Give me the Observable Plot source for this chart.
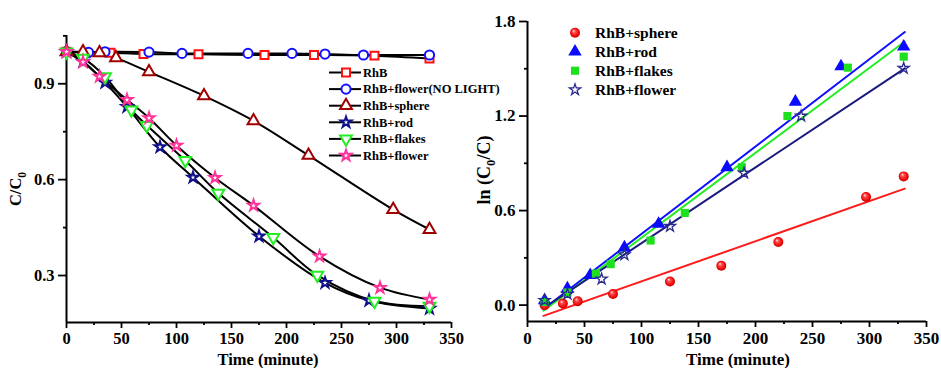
<!DOCTYPE html>
<html><head><meta charset="utf-8">
<script src="https://cdn.jsdelivr.net/npm/d3@7"></script>
<script src="https://cdn.jsdelivr.net/npm/@observablehq/plot@0.6"></script>
<style>
html,body{margin:0;padding:0;background:#fff;}
#root{position:relative;width:941px;height:368px;overflow:hidden;background:#fff;}
#root > svg{position:absolute;top:0;}
</style></head><body><div id="root"></div>
<script>
// ---------- Left panel: C/C0 vs time (minute) ----------
const tRhB = [0,40,70,120,180,225,280,330];
const cRhB = [1.0,0.997,0.993,0.992,0.990,0.990,0.988,0.979];
const tNoLight = [0,20,35,75,105,165,205,235,270,330];
const cNoLight = [1.0,0.998,1.0,0.999,0.995,0.995,0.995,0.993,0.990,0.990];
const tSphere = [0,15,30,45,75,125,170,220,297,330];
const cSphere = [1.0,1.0,0.997,0.981,0.937,0.862,0.784,0.676,0.506,0.444];
const tRod = [0,15,35,55,85,115,175,235,275,330];
const cRod = [1.0,0.97,0.904,0.828,0.702,0.607,0.423,0.277,0.222,0.197];
const tFlakes = [0,15,35,59,73,108,138,188,228,280,330];
const cFlakes = [1.0,0.98,0.922,0.818,0.77,0.66,0.558,0.419,0.301,0.22,0.204];
const tFlower = [0,15,30,55,75,100,135,170,230,285,330];
const cFlower = [1.0,0.968,0.923,0.85,0.793,0.707,0.606,0.519,0.36,0.262,0.225];

// ---------- Right panel: ln(C0/C) vs time (minute) ----------
const kSphereT = [15,31,44,75,125,170,220,297,330];
const kSphereY = [0.0,0.01,0.025,0.07,0.15,0.25,0.40,0.686,0.817];
const kRodT = [15,35,55,85,115,175,235,275,330];
const kRodY = [0.03,0.105,0.19,0.365,0.515,0.875,1.29,1.515,1.64];
const kFlakesT = [15,35,60,73,108,138,188,228,281,330];
const kFlakesY = [0.02,0.08,0.2,0.26,0.41,0.585,0.875,1.2,1.507,1.577];
const kFlowerT = [15,35,65,85,125,190,240,330];
const kFlowerY = [0.03,0.07,0.166,0.32,0.5,0.838,1.2,1.503];
// linear-fit lines (end values)
const fitT = [14,331];
const fitSphere = [-0.068,0.739];
const fitRod = [-0.025,1.733];
const fitFlakes = [-0.036,1.673];
const fitFlower = [-0.02,1.503];

// ---------- ticks ----------
const xMajor = [0,50,100,150,200,250,300,350];
const xMinor = [25,75,125,175,225,275,325];
const leftYMajor = [0.3,0.6,0.9];
const leftYMinor = [0.45,0.75,1.05];
const rightYMajor = [0.0,0.6,1.2,1.8];
const rightYMinor = [0.3,0.9,1.5];

const FONT = "'Liberation Serif','Times New Roman',serif";
const zip = (ts, vs, name) => ts.map((t, i) => ({t, v: vs[i], name}));

const triangleDown = {
  draw(ctx, size) {
    const y = -Math.sqrt(size / (Math.sqrt(3) * 3));
    ctx.moveTo(0, -y * 2);
    ctx.lineTo(-Math.sqrt(3) * y, y);
    ctx.lineTo(Math.sqrt(3) * y, y);
    ctx.closePath();
  }
};

const leftSeries = [
  {name: "RhB", data: zip(tRhB, cRhB, "RhB"), symbol: "square", color: "#ff1010", r: 4.5},
  {name: "RhB+flower(NO LIGHT)", data: zip(tNoLight, cNoLight, "nl"), symbol: "circle", color: "#1010ff", r: 4.6},
  {name: "RhB+sphere", data: zip(tSphere, cSphere, "sp"), symbol: "triangle", color: "#a00000", r: 4.4},
  {name: "RhB+rod", data: zip(tRod, cRod, "rod"), symbol: "star", color: "#10108c", r: 3.4},
  {name: "RhB+flakes", data: zip(tFlakes, cFlakes, "fl"), symbol: triangleDown, color: "#22ee22", r: 4.4},
  {name: "RhB+flower", data: zip(tFlower, cFlower, "fw"), symbol: "star", color: "#ff3399", r: 3.4}
];

const rightSeries = [
  {name: "RhB+sphere", data: zip(kSphereT, kSphereY, "sp"), fit: fitSphere, symbol: "circle", fill: "url(#sphereGrad)", stroke: "none", line: "#ff1a1a", r: 5},
  {name: "RhB+rod", data: zip(kRodT, kRodY, "rod"), fit: fitRod, symbol: "triangle", fill: "#0a0aff", stroke: "none", line: "#1010ff", r: 5},
  {name: "RhB+flakes", data: zip(kFlakesT, kFlakesY, "fl"), fit: fitFlakes, symbol: "square", fill: "#1fe01f", stroke: "none", line: "#22ee22", r: 4.6},
  {name: "RhB+flower", data: zip(kFlowerT, kFlowerY, "fw"), fit: fitFlower, symbol: "star", fill: "none", stroke: "#2a2a90", line: "#1a1a80", r: 3.5}
];

function axes(yDomain, yMajor, yMinor, fs) {
  const common = {stroke: "black", strokeWidth: 1.8, label: null, fontSize: fs, fontWeight: "bold", fontFamily: FONT};
  return [
    Plot.ruleY([yDomain[0]], {stroke: "black", strokeWidth: 2}),
    Plot.ruleX([0], {stroke: "black", strokeWidth: 2}),
    Plot.axisX({...common, ticks: xMajor, tickSize: 6, tickPadding: 4, tickFormat: d => String(d)}),
    Plot.axisX({...common, ticks: xMinor, tickSize: 3, tickFormat: () => ""}),
    Plot.axisY({...common, ticks: yMajor, tickSize: 8, tickPadding: 4, tickFormat: d3.format(".1f")}),
    Plot.axisY({...common, ticks: yMinor, tickSize: 3, tickFormat: () => ""})
  ];
}

const leftDomain = [0.153, 1.051];
const left = Plot.plot({
  width: 470, height: 368,
  marginLeft: 66, marginRight: 19, marginTop: 35, marginBottom: 46,
  x: {domain: [0, 350]},
  y: {domain: leftDomain},
  style: {fontFamily: FONT, color: "black", background: "transparent", overflow: "visible"},
  marks: [
    ...leftSeries.map(s => Plot.line(s.data, {x: "t", y: "v", stroke: "black", strokeWidth: 2, curve: "catmull-rom"})),
    ...axes(leftDomain, leftYMajor, leftYMinor, 16.5),
    ...leftSeries.map(s => Plot.dot(s.data, {x: "t", y: "v", symbol: s.symbol, r: s.r, stroke: s.color, strokeWidth: 2, fill: "white"}))
  ]
});

const rightDomain = [-0.104, 1.8];
const right = Plot.plot({
  width: 471, height: 368,
  marginLeft: 57, marginRight: 15, marginTop: 21, marginBottom: 47,
  x: {domain: [0, 350]},
  y: {domain: rightDomain},
  style: {fontFamily: FONT, color: "black", background: "white"},
  marks: [
    ...axes(rightDomain, rightYMajor, rightYMinor, 17),
    ...rightSeries.map(s => Plot.line(fitT.map((t, i) => ({t, v: s.fit[i]})), {x: "t", y: "v", stroke: s.line, strokeWidth: 2})),
    ...rightSeries.map(s => Plot.dot(s.data, {x: "t", y: "v", symbol: s.symbol, r: s.r, fill: s.fill, stroke: s.stroke, strokeWidth: 1.3}))
  ]
});

const root = document.getElementById("root");
right.style.left = "470px";
left.style.left = "0px";
root.appendChild(right);
root.appendChild(left);

// ---------- overlay: gradient, axis titles, legends ----------
const ov = d3.select(root).append("svg")
  .attr("width", 941).attr("height", 368)
  .style("position", "absolute").style("left", "0px").style("top", "0px")
  .style("pointer-events", "none")
  .style("font-family", FONT).style("font-weight", "bold");

const grad = ov.append("defs").append("radialGradient").attr("id", "sphereGrad")
  .attr("cx", "0.5").attr("cy", "0.5").attr("r", "0.55").attr("fx", "0.35").attr("fy", "0.3");
grad.append("stop").attr("offset", "0").attr("stop-color", "#ffe6e6");
grad.append("stop").attr("offset", "0.3").attr("stop-color", "#ff4a4a");
grad.append("stop").attr("offset", "0.8").attr("stop-color", "#e60000");
grad.append("stop").attr("offset", "1").attr("stop-color", "#b80000");

// axis titles
function subLabel(g, parts, fs) {
  const t = g.append("text").attr("text-anchor", "middle").attr("font-size", fs).attr("fill", "black");
  parts.forEach(p => {
    const ts = t.append("tspan").text(p.text);
    if (p.sub) ts.attr("font-size", fs * 0.7).attr("dy", fs * 0.3);
    else if (p.after) ts.attr("dy", -fs * 0.3);
  });
  return t;
}
subLabel(ov.append("g").attr("transform", "translate(21,189) rotate(-90)"),
  [{text: "C/C"}, {text: "0", sub: true}], 16.5);
subLabel(ov.append("g").attr("transform", "translate(490,170) rotate(-90)"),
  [{text: "ln (C"}, {text: "0", sub: true}, {text: "/C)", after: true}], 18);
ov.append("text").attr("x", 268).attr("y", 365).attr("text-anchor", "middle").attr("font-size", 16.5).text("Time (minute)");
ov.append("text").attr("x", 738).attr("y", 365).attr("text-anchor", "middle").attr("font-size", 17).text("Time (minute)");

// left legend
leftSeries.forEach((s, i) => {
  const y = 72.5 + i * 16.6;
  const g = ov.append("g");
  g.append("line").attr("x1", 329).attr("x2", 361).attr("y1", y).attr("y2", y).attr("stroke", "black").attr("stroke-width", 2);
  const sym = typeof s.symbol === "string" ? {square: d3.symbolSquare, circle: d3.symbolCircle, triangle: d3.symbolTriangle, star: d3.symbolStar}[s.symbol] : s.symbol;
  g.append("path").attr("transform", `translate(346,${y})`)
    .attr("d", d3.symbol(sym, Math.PI * s.r * s.r)())
    .attr("fill", "white").attr("stroke", s.color).attr("stroke-width", 2);
  g.append("text").attr("x", 363).attr("y", y).attr("dy", "0.35em").attr("font-size", 12.5).text(s.name);
});

// right legend
rightSeries.forEach((s, i) => {
  const y = 32.7 + i * 19;
  const g = ov.append("g");
  const sym = {square: d3.symbolSquare, circle: d3.symbolCircle, triangle: d3.symbolTriangle, star: d3.symbolStar}[s.symbol];
  g.append("path").attr("transform", `translate(575,${y})`)
    .attr("d", d3.symbol(sym, Math.PI * s.r * s.r)())
    .attr("fill", s.fill).attr("stroke", s.stroke).attr("stroke-width", 1.3);
  g.append("text").attr("x", 595).attr("y", y).attr("dy", "0.35em").attr("font-size", 15.5).text(s.name);
});
</script></body></html>
